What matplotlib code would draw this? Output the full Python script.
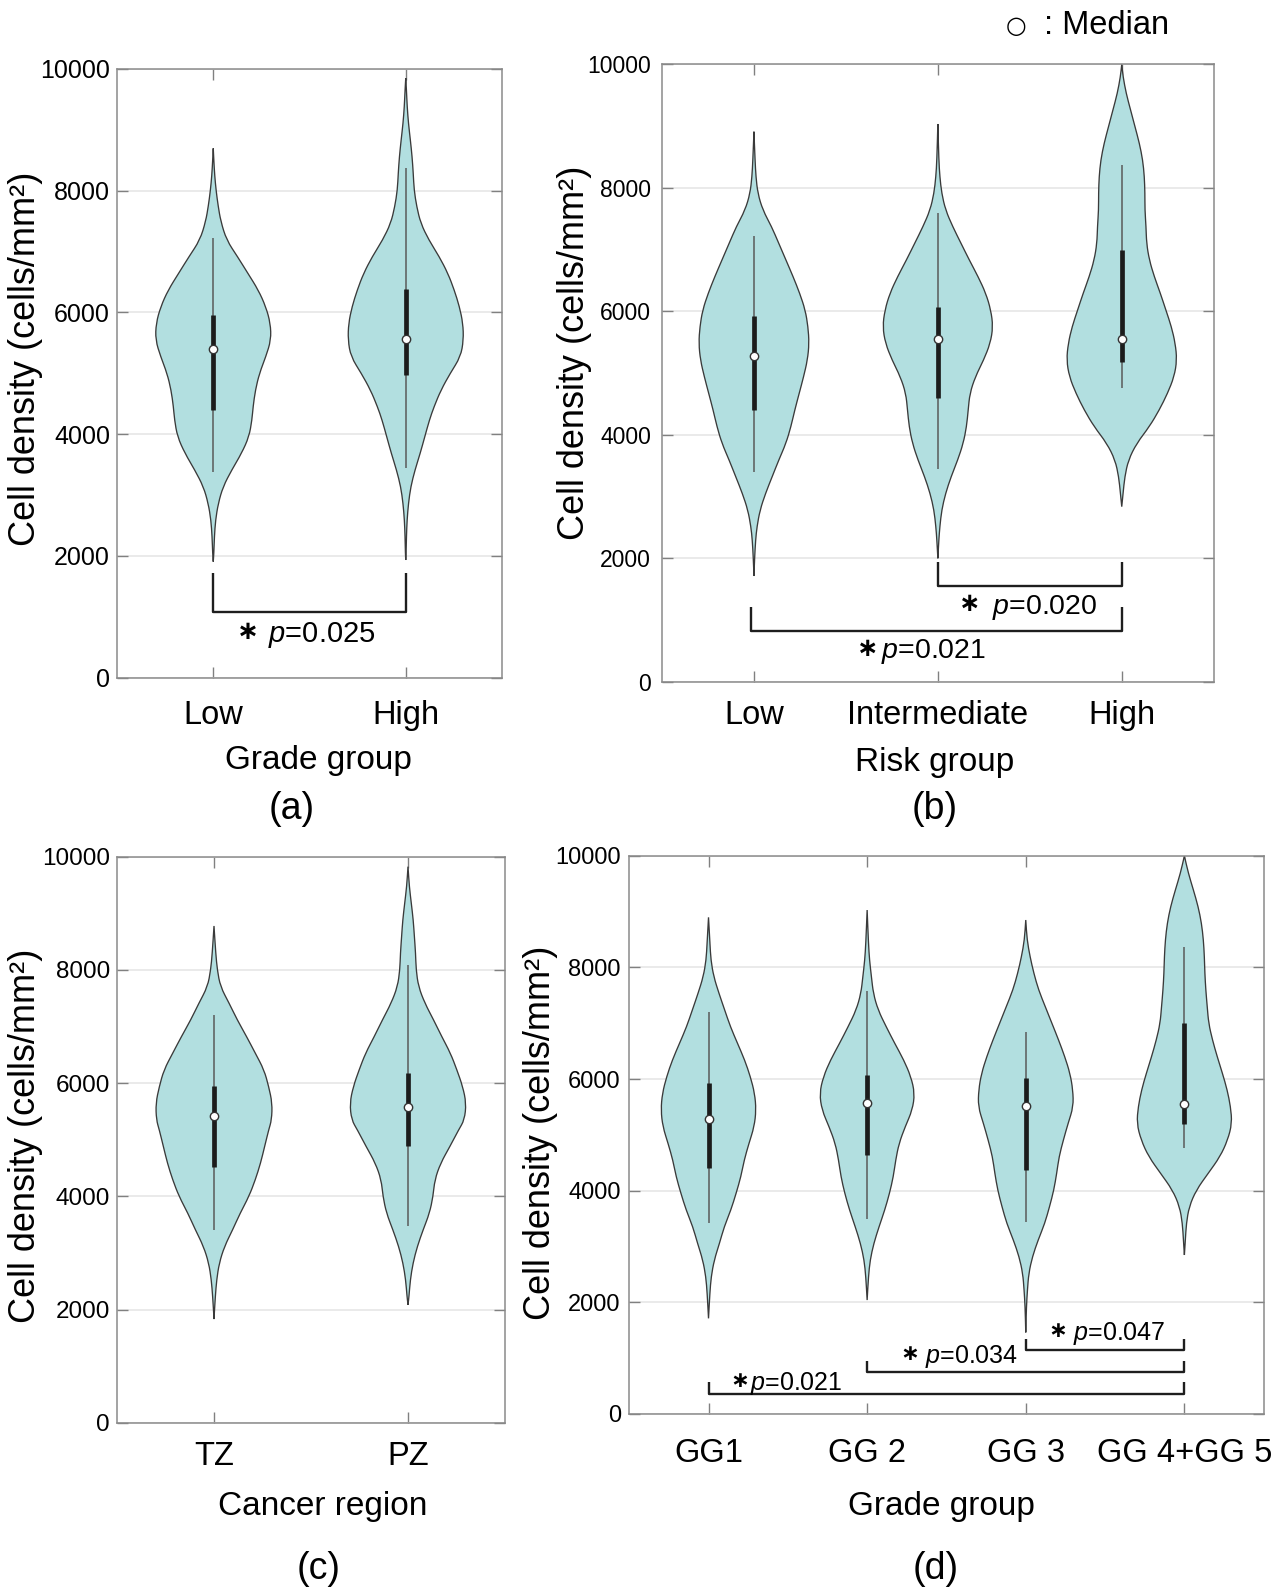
import matplotlib
matplotlib.use("Agg")
import matplotlib.pyplot as plt
from matplotlib.path import Path
from matplotlib.patches import PathPatch

plt.rcParams['font.family'] = ['Liberation Sans', 'DejaVu Sans']
plt.rcParams['mathtext.fontset'] = 'custom'
plt.rcParams['mathtext.rm'] = 'Liberation Sans'
plt.rcParams['mathtext.it'] = 'Liberation Sans:italic'

# ---------------- data ----------------
Y_TICKS = [0, 2000, 4000, 6000, 8000, 10000]
Y_LABEL = 'Cell density (cells/mm\u00b2)'

# (a) Grade group
A_LABELS = ['Low', 'High']
A_MEDIAN = [5395, 5559]
A_Q1 = [4398, 4973]
A_Q3 = [5959, 6381]
A_WLO = [3384, 3440]
A_WHI = [7218, 8379]
A_LOW_Y = [1906, 2042, 2316, 2590, 2864, 3138, 3412, 3686, 3960, 4234, 4452, 4726, 5000, 5274,
           5548, 5821, 6095, 6369, 6643, 6917, 7191, 7500, 7750, 8000, 8250, 8500, 8697]
A_LOW_W = [0, 0.01, 0.02, 0.04, 0.087, 0.17, 0.32, 0.49, 0.62, 0.67, 0.69, 0.73, 0.80, 0.91,
           1.00, 0.99, 0.91, 0.78, 0.60, 0.42, 0.23, 0.13, 0.085, 0.05, 0.025, 0.01, 0]
A_HIGH_Y = [1934, 2042, 2316, 2590, 2864, 3138, 3412, 3686, 3960, 4234, 4452, 4726, 5000, 5274,
            5548, 5821, 6095, 6369, 6643, 6917, 7191, 7464, 7738, 8011, 8285, 8559, 8833, 9107,
            9380, 9654, 9850]
A_HIGH_W = [0, 0.006, 0.012, 0.023, 0.047, 0.087, 0.16, 0.25, 0.33, 0.41, 0.49, 0.61, 0.77, 0.95,
            1.00, 0.99, 0.93, 0.84, 0.73, 0.58, 0.40, 0.26, 0.19, 0.145, 0.13, 0.11, 0.08, 0.047,
            0.025, 0.012, 0]

# (b) Risk group
B_LABELS = ['Low', 'Intermediate', 'High']
B_MEDIAN = [5275, 5546, 5556]
B_Q1 = [4401, 4590, 5183]
B_Q3 = [5923, 6074, 6992]
B_WLO = [3401, 3440, 4752]
B_WHI = [7219, 7586, 8369]
B_LOW_Y = [1712, 2000, 2295, 2510, 2780, 3050, 3320, 3590, 3860, 4130, 4400, 4670, 4940, 5210,
           5480, 5750, 6020, 6290, 6560, 6830, 7100, 7370, 7640, 7910, 8180, 8450, 8909]
B_LOW_W = [0, 0.012, 0.03, 0.055, 0.11, 0.21, 0.33, 0.45, 0.58, 0.67, 0.74, 0.82, 0.90, 0.97,
           1.00, 0.98, 0.93, 0.83, 0.71, 0.58, 0.45, 0.32, 0.16, 0.07, 0.036, 0.02, 0]
B_INT_Y = [1998, 2295, 2510, 2780, 3050, 3320, 3590, 3860, 4130, 4400, 4670, 4940, 5210, 5480,
           5750, 6020, 6290, 6560, 6830, 7100, 7370, 7640, 7910, 8180, 8450, 9033]
B_INT_W = [0, 0.018, 0.036, 0.07, 0.14, 0.24, 0.36, 0.46, 0.52, 0.55, 0.58, 0.68, 0.83, 0.95,
           1.00, 0.96, 0.87, 0.73, 0.57, 0.42, 0.27, 0.14, 0.07, 0.036, 0.018, 0]
B_HIGH_Y = [2835, 3050, 3320, 3590, 3860, 4130, 4400, 4670, 4940, 5210, 5480, 5750, 6020, 6290,
            6560, 6830, 7100, 7370, 7640, 7910, 8180, 8450, 8720, 8990, 9260, 9530, 9800, 10000]
B_HIGH_W = [0, 0.024, 0.055, 0.12, 0.27, 0.50, 0.68, 0.83, 0.95, 1.00, 0.97, 0.90, 0.80, 0.70,
            0.59, 0.50, 0.45, 0.44, 0.42, 0.42, 0.41, 0.38, 0.32, 0.24, 0.16, 0.08, 0.024, 0]

# (c) Cancer region
C_LABELS = ['TZ', 'PZ']
C_MEDIAN = [5421, 5575]
C_Q1 = [4509, 4884]
C_Q3 = [5957, 6174]
C_WLO = [3399, 3469]
C_WHI = [7205, 8088]
C_TZ_Y = [1831, 1937, 2231, 2525, 2820, 3114, 3408, 3703, 3997, 4291, 4585, 4880, 5174, 5351,
          5645, 5939, 6234, 6528, 6822, 7116, 7411, 7705, 7999, 8294, 8776]
C_TZ_W = [0, 0.006, 0.023, 0.046, 0.09, 0.18, 0.32, 0.45, 0.60, 0.71, 0.80, 0.87, 0.94, 0.99,
          1.00, 0.94, 0.86, 0.71, 0.56, 0.40, 0.26, 0.11, 0.057, 0.03, 0]
C_PZ_Y = [2084, 2231, 2525, 2820, 3114, 3408, 3703, 3997, 4291, 4585, 4880, 5174, 5351, 5645,
          5939, 6234, 6528, 6822, 7116, 7411, 7705, 7999, 8294, 8588, 8882, 9176, 9471, 9824]
C_PZ_W = [0, 0.017, 0.04, 0.086, 0.16, 0.26, 0.37, 0.43, 0.46, 0.56, 0.72, 0.87, 0.97, 1.00,
          0.94, 0.84, 0.73, 0.58, 0.44, 0.29, 0.18, 0.14, 0.13, 0.11, 0.09, 0.057, 0.023, 0]

# (d) Grade group (GG)
D_LABELS = ['GG1', 'GG 2', 'GG 3', 'GG 4+GG 5']
D_MEDIAN = [5280, 5566, 5523, 5554]
D_Q1 = [4401, 4640, 4371, 5190]
D_Q3 = [5925, 6073, 6014, 7000]
D_WLO = [3416, 3493, 3444, 4760]
D_WHI = [7208, 7584, 6850, 8373]
D_GG1_Y = [1712, 2160, 2458, 2757, 3056, 3354, 3653, 3952, 4250, 4549, 4848, 5147, 5446, 5744,
           6043, 6342, 6640, 6939, 7238, 7536, 7835, 8134, 8433, 8899]
D_GG1_W = [0, 0.028, 0.056, 0.12, 0.23, 0.33, 0.47, 0.58, 0.68, 0.75, 0.85, 0.96, 1.00, 0.97,
           0.88, 0.76, 0.61, 0.46, 0.34, 0.22, 0.11, 0.05, 0.03, 0]
D_GG2_Y = [2040, 2458, 2757, 3056, 3354, 3653, 3952, 4250, 4549, 4848, 5147, 5446, 5744, 6043,
           6342, 6640, 6939, 7238, 7536, 7835, 8134, 8433, 9030]
D_GG2_W = [0, 0.028, 0.063, 0.14, 0.25, 0.37, 0.47, 0.55, 0.60, 0.67, 0.80, 0.95, 1.00, 0.92,
           0.77, 0.58, 0.40, 0.23, 0.13, 0.09, 0.05, 0.028, 0]
D_GG3_Y = [1460, 1922, 2220, 2519, 2818, 3116, 3415, 3714, 4012, 4311, 4610, 4908, 5207, 5506,
           5805, 6103, 6402, 6701, 6999, 7298, 7597, 7895, 8194, 8493, 8851]
D_GG3_W = [0, 0.014, 0.035, 0.063, 0.14, 0.26, 0.40, 0.50, 0.59, 0.65, 0.70, 0.79, 0.89, 1.00,
           0.99, 0.93, 0.82, 0.69, 0.55, 0.41, 0.27, 0.17, 0.09, 0.028, 0]
D_GG4_Y = [2848, 3116, 3415, 3714, 4012, 4311, 4610, 4908, 5207, 5506, 5805, 6103, 6402, 6701,
           6999, 7298, 7597, 7895, 8194, 8493, 8792, 9090, 9389, 9688, 10000]
D_GG4_W = [0, 0.02, 0.042, 0.10, 0.25, 0.50, 0.75, 0.91, 1.00, 0.97, 0.90, 0.80, 0.69, 0.59,
           0.51, 0.48, 0.45, 0.43, 0.42, 0.40, 0.36, 0.29, 0.19, 0.084, 0]

# significance brackets:
# (x1, x2, tick_top, bar_y, star_x, text_x, text_y, label, fontsize)
A_SIG = [(1, 2, 1725, 1084, 1.18, 1.285, 745, '$p$=0.025', 21)]
B_SIG = [(2, 3, 1944, 1555, 2.171, 2.296, 1257, '$p$=0.020', 20.5),
         (0.985, 3, 1215, 826, 1.621, 1.692, 535, '$p$=0.021', 20.5)]
D_SIG = [(3, 4, 1337, 1145, 3.202, 3.297, 1491, '$p$=0.047', 18),
         (2, 4, 948, 745, 2.267, 2.363, 1073, '$p$=0.034', 18),
         (1, 4, 566, 357, 1.20, 1.264, 595, '$p$=0.021', 18)]

# ---------------- style ----------------
W, H = 1287, 1591
FILL = '#b2dfe0'
EDGE = '#3a3a3a'
HALF = 0.3

fig = plt.figure(figsize=(W / 100, H / 100), dpi=100)


def add_axes_px(l, t, r, b):
    return fig.add_axes([l / W, 1 - b / H, (r - l) / W, (b - t) / H])


def side_path(xs, ys, first_code):
    verts = [(xs[0], ys[0])]
    codes = [first_code]
    n = len(xs)
    verts.append(((xs[0] + xs[1]) / 2, (ys[0] + ys[1]) / 2))
    codes.append(Path.LINETO)
    for i in range(1, n - 1):
        verts.append((xs[i], ys[i]))
        verts.append(((xs[i] + xs[i + 1]) / 2, (ys[i] + ys[i + 1]) / 2))
        codes += [Path.CURVE3, Path.CURVE3]
    verts.append((xs[-1], ys[-1]))
    codes.append(Path.LINETO)
    return verts, codes


def violin(ax, pos, ys, ws):
    rx = [pos + HALF * w for w in ws]
    lx = [pos - HALF * w for w in ws][::-1]
    v1, c1 = side_path(rx, ys, Path.MOVETO)
    v2, c2 = side_path(lx, ys[::-1], Path.LINETO)
    verts = v1 + v2 + [v1[0]]
    codes = c1 + c2 + [Path.CLOSEPOLY]
    ax.add_patch(PathPatch(Path(verts, codes), facecolor=FILL, edgecolor=EDGE,
                           lw=0.95, zorder=2))


def stats(ax, med, q1, q3, wlo, whi):
    pos = list(range(1, len(med) + 1))
    ax.vlines(pos, wlo, whi, color='#5a5a5a', lw=1.1, zorder=3)
    ax.vlines(pos, q1, q3, color='#1c1c1c', lw=3.4, zorder=4)
    ax.plot(pos, med, 'o', mfc='white', mec='#333333', mew=1.0, ms=6.0, zorder=5, ls='none')


def brackets(ax, sigs):
    for x1, x2, top, yb, sx, tx, ty, txt, fs in sigs:
        ax.plot([x1, x1, x2, x2], [top, yb, yb, top], color='#1e1e1e', lw=1.7,
                solid_capstyle='butt', zorder=3)
        ax.text(sx, ty, '\u2217', ha='center', va='center', fontsize=fs * 0.9,
                fontweight='bold', family=['DejaVu Sans'], zorder=6)
        ax.text(tx, ty - 50, txt, ha='left', va='center', fontsize=fs, zorder=6)


def setup(ax, labels, ytick_fs, ytick_pad, xtick_pad):
    n = len(labels)
    ax.set_xlim(0.5, n + 0.5)
    ax.set_ylim(0, 10000)
    ax.set_xticks(range(1, n + 1))
    ax.set_xticklabels(labels)
    ax.set_yticks(Y_TICKS)
    ax.set_yticklabels([str(v) for v in Y_TICKS])
    ax.tick_params(axis='both', direction='in', length=8, width=1.0, color='#808080',
                   top=True, right=True)
    ax.tick_params(axis='y', labelsize=ytick_fs, pad=ytick_pad)
    ax.tick_params(axis='x', labelsize=23.5, pad=xtick_pad)
    for s in ax.spines.values():
        s.set_color('#8a8a8a')
        s.set_linewidth(1.1)
    ax.grid(axis='y', color='#e6e6e6', lw=1.2)
    ax.set_axisbelow(True)


def ftext(x, y, s, **kw):
    fig.text(x / W, 1 - y / H, s, ha='center', va='center', **kw)


# (a)
axa = add_axes_px(117, 69, 502, 677.7)
setup(axa, A_LABELS, 18, 5, 16)
violin(axa, 1, A_LOW_Y, A_LOW_W)
violin(axa, 2, A_HIGH_Y, A_HIGH_W)
stats(axa, A_MEDIAN, A_Q1, A_Q3, A_WLO, A_WHI)
brackets(axa, A_SIG)

# (b)
axb = add_axes_px(662, 64.3, 1213.7, 681.7)
setup(axb, B_LABELS, 16.5, 8, 13.5)
violin(axb, 1, B_LOW_Y, B_LOW_W)
violin(axb, 2, B_INT_Y, B_INT_W)
violin(axb, 3, B_HIGH_Y, B_HIGH_W)
stats(axb, B_MEDIAN, B_Q1, B_Q3, B_WLO, B_WHI)
brackets(axb, B_SIG)

# (c)
axc = add_axes_px(117, 856.7, 505, 1422.7)
setup(axc, C_LABELS, 17.5, 5, 13.5)
violin(axc, 1, C_TZ_Y, C_TZ_W)
violin(axc, 2, C_PZ_Y, C_PZ_W)
stats(axc, C_MEDIAN, C_Q1, C_Q3, C_WLO, C_WHI)

# (d)
axd = add_axes_px(629.2, 855.9, 1263.7, 1413.9)
setup(axd, D_LABELS, 17, 6, 17)
violin(axd, 1, D_GG1_Y, D_GG1_W)
violin(axd, 2, D_GG2_Y, D_GG2_W)
violin(axd, 3, D_GG3_Y, D_GG3_W)
violin(axd, 4, D_GG4_Y, D_GG4_W)
stats(axd, D_MEDIAN, D_Q1, D_Q3, D_WLO, D_WHI)
brackets(axd, D_SIG)

# axis titles and panel labels
ftext(318, 761, 'Grade group', fontsize=24)
ftext(292, 809, '(a)', fontsize=27)
ftext(935, 762, 'Risk group', fontsize=24)
ftext(935, 809, '(b)', fontsize=27)
ftext(323, 1507, 'Cancer region', fontsize=24)
ftext(319, 1569, '(c)', fontsize=27)
ftext(941, 1507, 'Grade group', fontsize=24)
ftext(936, 1569, '(d)', fontsize=27)

ftext(26, 359, Y_LABEL, fontsize=26, rotation=90)
ftext(574, 353, Y_LABEL, fontsize=26, rotation=90)
ftext(26, 1136, Y_LABEL, fontsize=26, rotation=90)
ftext(540, 1133, Y_LABEL, fontsize=26, rotation=90)

# median legend
fig.text(1016 / W, 1 - 26 / H, '\u25cb', ha='center', va='center', fontsize=17,
         family=['DejaVu Sans'])
fig.text(1044 / W, 1 - 26 / H, ': Median', ha='left', va='center', fontsize=23.5)

fig.savefig('out.png', dpi=100)
